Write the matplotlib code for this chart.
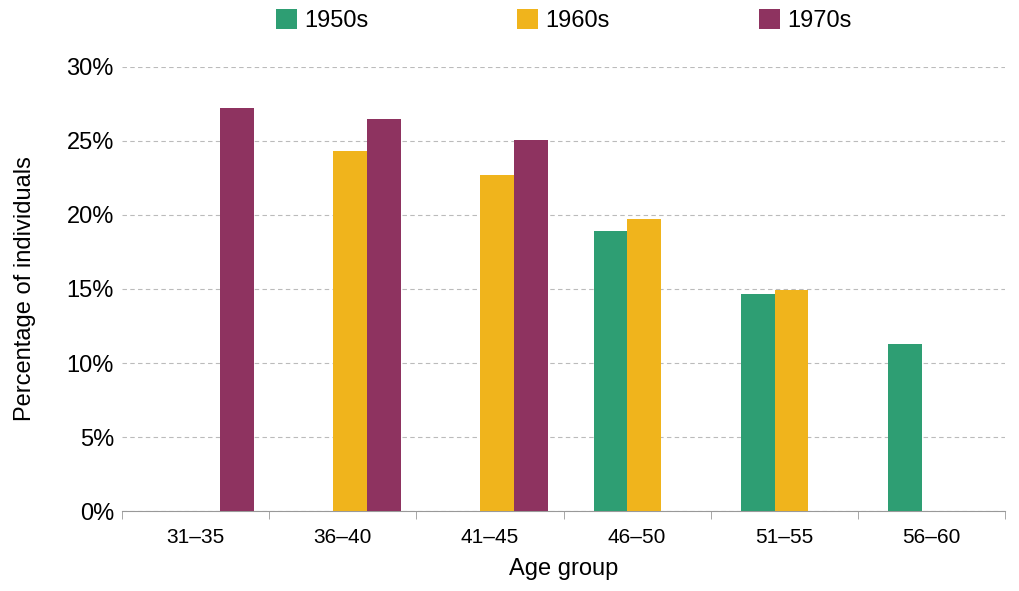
import numpy as np
import matplotlib
matplotlib.use("Agg")
import matplotlib.pyplot as plt

plt.rcParams["font.family"] = ["Liberation Sans", "DejaVu Sans"]

age_groups = ["31–35", "36–40", "41–45", "46–50", "51–55", "56–60"]
cohorts = ["1950s", "1960s", "1970s"]
vals_1950s = [np.nan, np.nan, np.nan, 18.9, 14.65, 11.3]
vals_1960s = [np.nan, 24.3, 22.7, 19.7, 14.95, np.nan]
vals_1970s = [27.2, 26.5, 25.05, np.nan, np.nan, np.nan]

colors = ["#2E9E73", "#F0B41C", "#8E3360"]
width = 0.23
offsets = [-0.18, -0.18 + width, -0.18 + 2 * width]

fig, ax = plt.subplots(figsize=(10.19, 5.91), dpi=100)
fig.subplots_adjust(left=0.12, right=0.986, top=0.887, bottom=0.135)
x = np.arange(len(age_groups))
for vals, c, off, lab in zip([vals_1950s, vals_1960s, vals_1970s], colors, offsets, cohorts):
    ax.bar(x + off, vals, width, color=c, label=lab, zorder=3)

ax.set_xlim(-0.5, len(age_groups) - 0.5)
ax.set_ylim(0, 30)
ax.set_yticks(range(0, 31, 5))
ax.set_yticklabels([f"{v}%" for v in range(0, 31, 5)], fontsize=17)
ax.set_xticks(x)
ax.set_xticklabels(age_groups, fontsize=15)
ax.set_xticks(np.arange(-0.5, len(age_groups)), minor=True)
ax.tick_params(axis="x", which="major", length=0, pad=12)
ax.tick_params(axis="x", which="minor", length=6, color="#999999")
ax.tick_params(axis="y", length=0, pad=6)
ax.yaxis.grid(True, linestyle=(0, (4, 3)), color="#BBBBBB", zorder=0)
for s in ["top", "right", "left"]:
    ax.spines[s].set_visible(False)
ax.spines["bottom"].set_color("#999999")
ax.set_xlabel("Age group", fontsize=17, labelpad=8)
ax.set_ylabel("Percentage of individuals", fontsize=17, labelpad=22)
ax.legend(loc="lower center", bbox_to_anchor=(0.5, 1.03), ncol=3, frameon=False,
          fontsize=17, handlelength=0.9, handleheight=0.9, columnspacing=6.3, handletextpad=0.3)
fig.savefig("out.png")
